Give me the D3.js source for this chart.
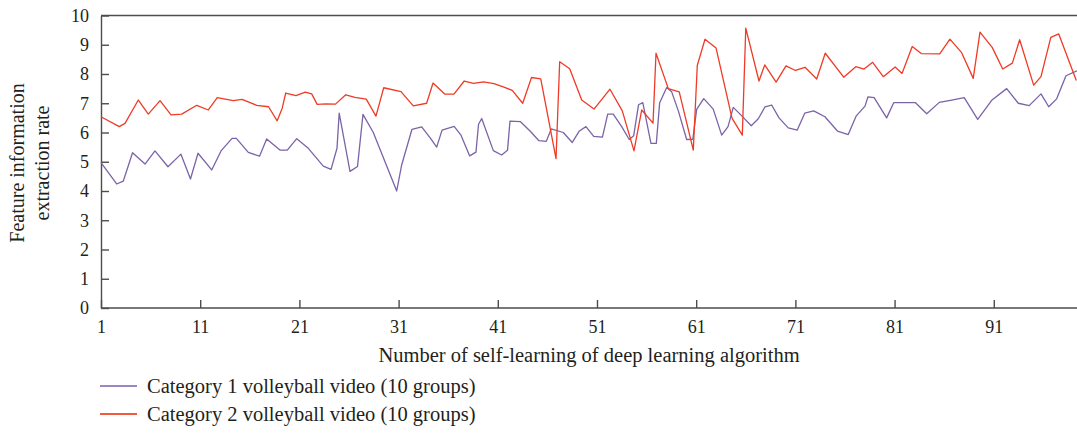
<!DOCTYPE html>
<html>
<head>
<meta charset="utf-8">
<script src="https://cdn.jsdelivr.net/npm/d3@7"></script>
<style>
  body { margin: 0; background: #fff; }
  svg text { font-family: "Liberation Serif", "DejaVu Serif", serif; fill: #231f20; }
  .axis path, .axis line { stroke: #4d4d4f; stroke-width: 1.4; }
</style>
</head>
<body>
<div id="chart"></div>
<script>
// vertices (x = learning count, y = extraction rate)
const cat1X = [1, 2.58, 3.25, 4.18, 5.44, 6.44, 7.75, 9.06, 10.02, 10.78, 12.16, 13.10, 14.21, 14.64, 15.85, 16.98, 17.70, 19.04, 19.78, 20.73,
  21.90, 23.41, 24.19, 24.79, 25.01, 26.10, 26.86, 27.41, 28.45, 30.81, 31.31, 32.35, 33.33, 34.22, 34.84, 35.38, 36.60, 37.29, 38.17, 38.80,
  39.06, 39.38, 40.55, 41.39, 41.98, 42.23, 43.29, 44.25, 45.15, 45.89, 46.39, 47.60, 48.51, 49.19, 49.89, 50.67, 51.55, 52.08, 52.64, 53.49,
  54.25, 54.70, 55.19, 55.62, 56.44, 56.98, 57.32, 58.03, 58.53, 59.20, 60.04, 60.66, 61.05, 61.76, 62.72, 63.57, 64.21, 64.74, 65.62, 66.55,
  67.26, 67.94, 68.61, 69.35, 70.28, 71.18, 71.94, 72.85, 73.98, 75.24, 76.33, 77.14, 78.02, 78.32, 78.94, 80.20, 80.91, 83.11, 84.24, 85.51,
  86.76, 88.02, 89.38, 90.79, 92.30, 93.47, 94.57, 95.76, 96.54, 97.34, 98.28, 99.39];
const cat1Y = [4.97, 4.24, 4.34, 5.31, 4.92, 5.37, 4.83, 5.26, 4.41, 5.29, 4.72, 5.37, 5.80, 5.80, 5.32, 5.19, 5.78, 5.40, 5.40, 5.79,
  5.46, 4.85, 4.74, 5.46, 6.66, 4.67, 4.84, 6.62, 6.00, 4.00, 4.89, 6.11, 6.19, 5.80, 5.50, 6.08, 6.21, 5.91, 5.20, 5.33,
  6.28, 6.48, 5.38, 5.23, 5.39, 6.39, 6.37, 6.05, 5.72, 5.70, 6.12, 6.00, 5.66, 6.04, 6.20, 5.87, 5.84, 6.63, 6.63, 6.20,
  5.76, 5.89, 6.95, 7.02, 5.63, 5.63, 7.02, 7.54, 7.39, 6.74, 5.76, 5.77, 6.79, 7.16, 6.80, 5.91, 6.20, 6.86, 6.56, 6.23,
  6.47, 6.88, 6.94, 6.50, 6.16, 6.08, 6.66, 6.74, 6.54, 6.05, 5.93, 6.57, 6.90, 7.22, 7.19, 6.50, 7.02, 7.02, 6.64, 7.03,
  7.11, 7.19, 6.45, 7.10, 7.50, 7.00, 6.92, 7.32, 6.88, 7.15, 7.94, 8.11];

const cat2X = [1, 2.84, 3.42, 4.76, 5.77, 6.95, 8.06, 9.14, 10.65, 11.82, 12.72, 14.34, 15.21, 16.70, 17.89, 18.76, 19.27, 19.62, 20.66, 21.59,
  22.24, 22.79, 23.68, 24.64, 25.67, 26.60, 27.74, 28.72, 29.50, 31.24, 32.48, 33.83, 34.47, 35.68, 36.58, 37.62, 38.55, 39.56, 40.62, 41.55,
  42.46, 43.51, 44.40, 45.33, 46.87, 47.24, 48.25, 49.46, 50.70, 52.31, 53.55, 54.73, 55.51, 56.65, 56.95, 58.19, 59.29, 60.71, 61.11, 61.89,
  63.00, 64.61, 65.65, 66.00, 67.33, 67.91, 69.06, 70.05, 71.01, 71.97, 73.15, 74.01, 75.87, 77.09, 77.92, 78.79, 79.86, 81.06, 81.75, 82.78,
  83.69, 85.55, 86.58, 87.76, 88.93, 89.61, 90.84, 91.90, 92.87, 93.61, 95.02, 95.76, 96.75, 97.55, 99.32];
const cat2Y = [6.54, 6.20, 6.31, 7.11, 6.63, 7.09, 6.60, 6.63, 6.93, 6.77, 7.19, 7.09, 7.13, 6.93, 6.88, 6.40, 6.83, 7.35, 7.26, 7.38,
  7.32, 6.96, 6.98, 6.97, 7.29, 7.20, 7.14, 6.56, 7.53, 7.40, 6.91, 7.00, 7.69, 7.31, 7.31, 7.76, 7.68, 7.73, 7.67, 7.56,
  7.44, 7.00, 7.88, 7.83, 5.11, 8.42, 8.18, 7.11, 6.80, 7.48, 6.74, 5.37, 6.77, 6.32, 8.71, 7.50, 7.39, 5.40, 8.29, 9.19,
  8.89, 6.49, 5.91, 9.57, 7.76, 8.31, 7.72, 8.28, 8.12, 8.23, 7.83, 8.71, 7.89, 8.25, 8.17, 8.40, 7.91, 8.24, 8.02, 8.94,
  8.70, 8.69, 9.19, 8.73, 7.85, 9.43, 8.91, 8.17, 8.37, 9.17, 7.62, 7.91, 9.25, 9.37, 7.78];

const xTicks = [1, 11, 21, 31, 41, 51, 61, 71, 81, 91];
const yTicks = [0, 1, 2, 3, 4, 5, 6, 7, 8, 9, 10];
const seriesNames = ["Category 1 volleyball video (10 groups)", "Category 2 volleyball video (10 groups)"];
const seriesColors = ["#7b63a8", "#ef3b26"];
const legendColors = ["#9a88c4", "#f05a3f"];

const W = 1077, H = 438;
const plot = {left: 101, right: 1077, top: 15.5, bottom: 308};

const svg = d3.select("#chart").append("svg")
    .attr("width", W)
    .attr("height", H);

const x = d3.scaleLinear().domain([1, 99.39]).range([plot.left, plot.right]);
const y = d3.scaleLinear().domain([0, 10]).range([plot.bottom, plot.top]);

// top frame line
svg.append("line")
    .attr("x1", plot.left).attr("x2", plot.right)
    .attr("y1", y(10)).attr("y2", y(10))
    .attr("stroke", "#4d4d4f").attr("stroke-width", 1.4);

const xAxis = svg.append("g")
    .attr("class", "axis")
    .attr("transform", `translate(0,${y(0)})`)
    .call(d3.axisBottom(x).tickValues(xTicks).tickSizeInner(-8).tickSizeOuter(0).tickPadding(12));
xAxis.selectAll("text").style("font-size", "18px");
xAxis.select(".domain").attr("d", `M${plot.left},0H${plot.right}`);

const yAxis = svg.append("g")
    .attr("class", "axis")
    .attr("transform", `translate(${plot.left},0)`)
    .call(d3.axisLeft(y).tickValues(yTicks).tickSizeInner(-8).tickSizeOuter(0).tickPadding(12));
yAxis.selectAll("text").style("font-size", "18px");

// axis titles
svg.append("text")
    .attr("x", 589).attr("y", 362)
    .attr("text-anchor", "middle")
    .style("font-size", "20.5px")
    .text("Number of self-learning of deep learning algorithm");

const yTitle = svg.append("text")
    .attr("transform", "translate(0,163) rotate(-90)")
    .attr("text-anchor", "middle")
    .style("font-size", "20px");
yTitle.append("tspan").attr("x", 0).attr("y", 24).text("Feature information");
yTitle.append("tspan").attr("x", 0).attr("y", 49).text("extraction rate");

// lines
const line = d3.line();
const series = [
  {xs: cat1X, ys: cat1Y},
  {xs: cat2X, ys: cat2Y}
];
series.forEach((s, i) => {
  svg.append("path")
      .datum(s.xs.map((v, j) => [x(v), y(s.ys[j])]))
      .attr("fill", "none")
      .attr("stroke", seriesColors[i])
      .attr("stroke-width", 1.3)
      .attr("stroke-linejoin", "round")
      .attr("d", line);
});

// legend
const legend = svg.selectAll(".legend")
    .data(seriesNames)
    .enter()
  .append("g")
    .attr("class", "legend")
    .attr("transform", (d, i) => `translate(100,${386 + i * 28})`);
legend.append("line")
    .attr("x1", 0).attr("x2", 37)
    .attr("stroke", (d, i) => legendColors[i])
    .attr("stroke-width", 2);
legend.append("text")
    .attr("x", 47).attr("dy", "0.33em")
    .style("font-size", "20.5px")
    .text(d => d);
</script>
</body>
</html>
